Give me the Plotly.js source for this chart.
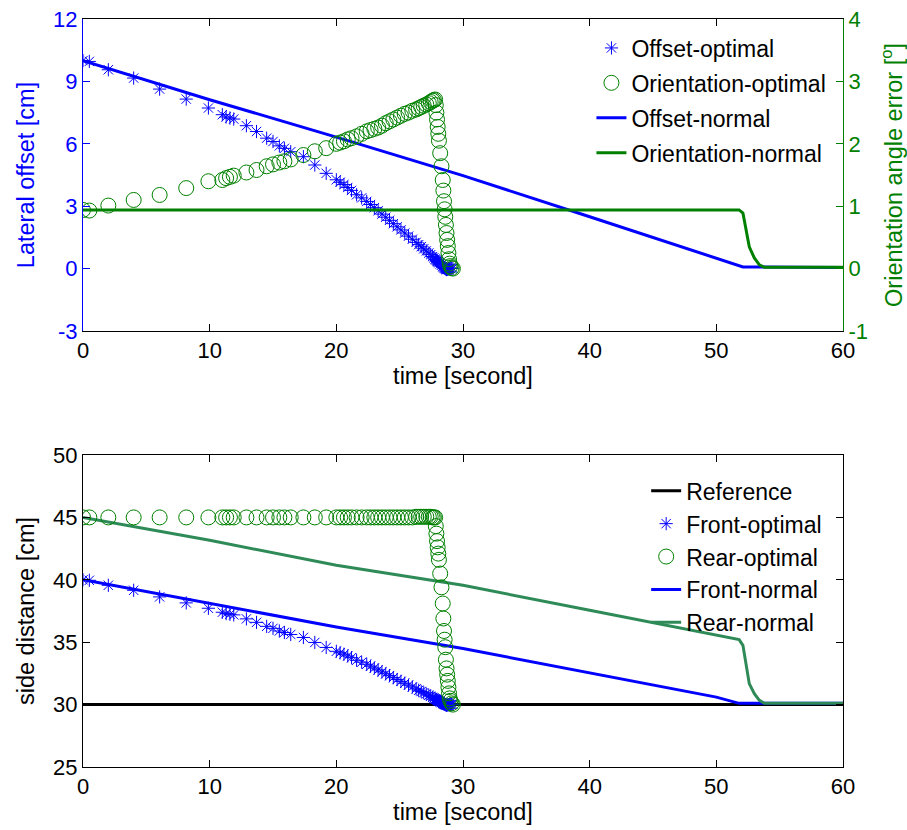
<!DOCTYPE html>
<html>
<head>
<meta charset="utf-8">
<script src="https://cdn.plot.ly/plotly-3.0.1.min.js"></script>
<style>html,body{margin:0;padding:0;background:#fff;}#chart{width:907px;height:830px;}</style>
</head>
<body>
<div id="chart"></div>
<script>
// ---- shared time samples of the "optimal" runs (seconds)
var tOpt = [0, 0.5, 2.0, 4.0, 6.05, 8.15, 9.9, 11.0, 11.3, 11.6, 11.9, 12.9, 13.7, 14.5, 15.0, 15.5, 15.9, 16.4, 17.4, 18.3, 19.2, 20.0, 20.3, 20.6, 20.9, 21.2, 21.6, 22.0, 22.4, 22.7, 23.0, 23.3, 23.6, 23.9, 24.2, 24.5, 24.8, 25.1, 25.4, 25.7, 26.0, 26.3, 26.5, 26.7, 26.9, 27.1, 27.3, 27.45, 27.6, 27.7, 27.8,
  27.85, 27.9, 27.95, 28.0, 28.05, 28.1, 28.2, 28.3, 28.4, 28.45, 28.5, 28.55, 28.6, 28.65, 28.7, 28.75, 28.8, 28.85, 28.9, 28.95, 29.0, 29.1, 29.2];

// ---- top panel
var offsetOptimal = [10.0, 9.96, 9.56, 9.16, 8.63, 8.15, 7.72, 7.40, 7.29, 7.24, 7.19, 6.87, 6.59, 6.27, 6.11, 5.90, 5.78, 5.62, 5.38, 4.98, 4.58, 4.27, 4.15, 4.04, 3.90, 3.76, 3.55, 3.40, 3.23, 3.08, 2.93, 2.78, 2.62, 2.47, 2.32, 2.16, 2.01, 1.86, 1.71, 1.56, 1.41, 1.26, 1.15, 1.05, 0.95, 0.85, 0.75, 0.67, 0.58, 0.52, 0.46,
  0.43, 0.40, 0.37, 0.34, 0.31, 0.28, 0.22, 0.16, 0.10, 0.07, 0.04, 0.02, 0.00, -0.03, -0.05, -0.04, -0.02, -0.01, 0.00, 0.01, 0.01, 0.02, 0.02];
var orientationOptimal = [0.94, 0.93, 1.01, 1.10, 1.18, 1.29, 1.40, 1.42, 1.45, 1.47, 1.49, 1.54, 1.58, 1.64, 1.67, 1.70, 1.72, 1.75, 1.82, 1.88, 1.93, 2.00, 2.02, 2.04, 2.07, 2.09, 2.12, 2.16, 2.20, 2.22, 2.24, 2.26, 2.29, 2.33, 2.36, 2.39, 2.42, 2.45, 2.48, 2.50, 2.53, 2.55, 2.57, 2.59, 2.61, 2.63, 2.65, 2.67, 2.69, 2.70, 2.71,
  2.62, 2.50, 2.39, 2.27, 2.16, 2.05, 1.85, 1.64, 1.42, 1.25, 1.08, 0.95, 0.83, 0.70, 0.57, 0.46, 0.36, 0.25, 0.15, 0.08, 0.04, 0.01, 0.00];

var tOffsetNormal = [0, 10, 20, 30, 40, 50, 52.1, 60];
var offsetNormal = [10.0, 8.12, 6.32, 4.47, 2.49, 0.50, 0.08, 0.05];

var tOrientNormal = [0, 51.8, 52.1, 52.4, 52.6, 53.0, 53.4, 53.8, 60];
var orientationNormal = [0.94, 0.94, 0.89, 0.57, 0.35, 0.17, 0.06, 0.02, 0.02];

// ---- bottom panel
var tReference = [0, 60];
var reference = [30, 30];
var frontOptimal = [40.0, 39.96, 39.56, 39.16, 38.63, 38.15, 37.72, 37.40, 37.29, 37.24, 37.19, 36.87, 36.59, 36.27, 36.11, 35.90, 35.78, 35.62, 35.38, 34.98, 34.58, 34.27, 34.15, 34.04, 33.90, 33.76, 33.55, 33.40, 33.23, 33.08, 32.93, 32.78, 32.62, 32.47, 32.32, 32.16, 32.01, 31.86, 31.71, 31.56, 31.41, 31.26, 31.15, 31.05, 30.95, 30.85, 30.75, 30.67, 30.58, 30.52, 30.46,
  30.43, 30.40, 30.37, 30.34, 30.31, 30.28, 30.22, 30.16, 30.10, 30.07, 30.04, 30.02, 30.00, 29.97, 29.95, 29.96, 29.98, 29.99, 30.00, 30.01, 30.01, 30.02, 30.02];
var rearOptimal = [45.0, 45.0, 45.0, 45.0, 45.0, 45.0, 45.0, 45.0, 45.0, 45.0, 45.0, 45.0, 45.0, 45.0, 45.0, 45.0, 45.0, 45.0, 45.0, 45.0, 45.0, 45.0, 45.0, 45.0, 45.0, 45.0, 45.0, 45.0, 45.0, 45.0, 45.0, 45.0, 45.0, 45.0, 45.0, 45.0, 45.0, 45.0, 45.0, 45.0, 45.0, 45.05, 45.05, 45.05, 45.05, 45.05, 45.05, 45.05, 45.0, 45.0, 45.0,
  44.3, 43.7, 43.1, 42.6, 42.1, 41.6, 40.5, 39.4, 38.1, 36.9, 35.9, 35.2, 34.6, 33.6, 32.9, 32.4, 31.9, 31.4, 30.9, 30.5, 30.3, 30.1, 30.0];

var tFrontNormal = [0, 10, 20, 30, 40, 50, 51.8, 60];
var frontNormal = [40.0, 38.09, 36.22, 34.49, 32.55, 30.6, 30.1, 30.1];

var tRearNormal = [0, 10, 20, 30, 40, 50, 51.8, 52.1, 52.4, 52.6, 53.0, 53.4, 53.8, 60];
var rearNormal = [45.0, 43.17, 41.16, 39.56, 37.56, 35.6, 35.21, 34.75, 33.01, 31.68, 30.88, 30.34, 30.1, 30.1];

// ---- tick labels
var xTicks = [0, 10, 20, 30, 40, 50, 60];
var yLeftTicks = [-3, 0, 3, 6, 9, 12];
var yLeftText = ['-3', '0', '3', '6', '9', '12'];
var yRightTicks = [-1, 0, 1, 2, 3, 4];
var yRightText = ['-1', '0', '1', '2', '3', '4'];
var yBottomTicks = [25, 30, 35, 40, 45, 50];

var BLUE = 'rgb(0,0,255)', GREEN = 'rgb(0,128,0)', SEA = 'rgb(46,139,87)';
var FONT = 'Arial, "Liberation Sans", sans-serif';
var FS = 22, FT = 23.5, FL = 23;

var traces = [
  {x: tOffsetNormal, y: offsetNormal, type: 'scatter', mode: 'lines', name: 'Offset-normal',
   line: {color: BLUE, width: 3}, xaxis: 'x', yaxis: 'y', legend: 'legend', legendgroup: 'a3', legendrank: 3},
  {x: tOrientNormal, y: orientationNormal, type: 'scatter', mode: 'lines', name: 'Orientation-normal',
   line: {color: GREEN, width: 3}, xaxis: 'x', yaxis: 'y2', legend: 'legend', legendgroup: 'a4', legendrank: 4},
  {x: tOpt, y: offsetOptimal, type: 'scatter', mode: 'markers', name: 'Offset-optimal',
   marker: {symbol: 'asterisk-open', size: 11, color: BLUE, line: {color: BLUE, width: 1}},
   xaxis: 'x', yaxis: 'y', legend: 'legend', legendgroup: 'a1', legendrank: 1},
  {x: tOpt, y: orientationOptimal, type: 'scatter', mode: 'markers', name: 'Orientation-optimal',
   marker: {symbol: 'circle-open', size: 15, color: GREEN, line: {color: GREEN, width: 1}},
   xaxis: 'x', yaxis: 'y2', legend: 'legend', legendgroup: 'a2', legendrank: 2},

  {x: tReference, y: reference, type: 'scatter', mode: 'lines', name: 'Reference',
   line: {color: 'black', width: 3}, xaxis: 'x2', yaxis: 'y3', legend: 'legend2', legendgroup: 'b1', legendrank: 1},
  {x: tFrontNormal, y: frontNormal, type: 'scatter', mode: 'lines', name: 'Front-normal',
   line: {color: BLUE, width: 3}, xaxis: 'x2', yaxis: 'y3', legend: 'legend2', legendgroup: 'b4', legendrank: 4},
  {x: tRearNormal, y: rearNormal, type: 'scatter', mode: 'lines', name: 'Rear-normal',
   line: {color: SEA, width: 3}, xaxis: 'x2', yaxis: 'y3', legend: 'legend2', legendgroup: 'b5', legendrank: 5},
  {x: tOpt, y: frontOptimal, type: 'scatter', mode: 'markers', name: 'Front-optimal',
   marker: {symbol: 'asterisk-open', size: 11, color: BLUE, line: {color: BLUE, width: 1}},
   xaxis: 'x2', yaxis: 'y3', legend: 'legend2', legendgroup: 'b2', legendrank: 2},
  {x: tOpt, y: rearOptimal, type: 'scatter', mode: 'markers', name: 'Rear-optimal',
   marker: {symbol: 'circle-open', size: 15, color: GREEN, line: {color: GREEN, width: 1}},
   xaxis: 'x2', yaxis: 'y3', legend: 'legend2', legendgroup: 'b3', legendrank: 3}
];

function xAxis(anchor) {
  return {
    domain: [0, 1], anchor: anchor, range: [0, 60], tickvals: xTicks,
    ticks: 'inside', ticklen: 7, tickcolor: 'black', tickwidth: 1,
    showline: true, linecolor: 'black', linewidth: 1, mirror: 'ticks',
    showgrid: false, zeroline: false,
    tickfont: {family: FONT, size: FS, color: 'black'},
    title: {text: 'time [second]', font: {family: FONT, size: FT, color: 'black'}, standoff: 5}
  };
}

var layout = {
  width: 907, height: 830,
  margin: {l: 83, r: 64, t: 19, b: 63},
  paper_bgcolor: 'white', plot_bgcolor: 'white',
  font: {family: FONT, size: FS},
  xaxis: xAxis('y'),
  xaxis2: xAxis('y3'),
  yaxis: {
    domain: [0.5829, 1], anchor: 'x', range: [-3, 12], tickvals: yLeftTicks, ticktext: yLeftText,
    ticks: 'inside', ticklen: 7, tickcolor: BLUE, showline: true, linecolor: BLUE, linewidth: 1,
    showgrid: false, zeroline: false,
    tickfont: {family: FONT, size: FS, color: BLUE},
    title: {text: 'Lateral offset [cm]', font: {family: FONT, size: FT, color: BLUE}, standoff: 11}
  },
  yaxis2: {
    overlaying: 'y', side: 'right', anchor: 'x', range: [-1, 4], tickvals: yRightTicks, ticktext: yRightText,
    ticks: 'inside', ticklen: 7, tickcolor: GREEN, showline: true, linecolor: GREEN, linewidth: 1,
    showgrid: false, zeroline: false,
    tickfont: {family: FONT, size: FS, color: GREEN},
    title: {text: 'Orientation angle error [<sup>o</sup>]', font: {family: FONT, size: FT, color: GREEN}, standoff: 19}
  },
  yaxis3: {
    domain: [0, 0.4171], anchor: 'x2', range: [25, 50], tickvals: yBottomTicks,
    ticks: 'inside', ticklen: 7, tickcolor: 'black', showline: true, linecolor: 'black', linewidth: 1,
    mirror: 'ticks', showgrid: false, zeroline: false,
    tickfont: {family: FONT, size: FS, color: 'black'},
    title: {text: 'side distance [cm]', font: {family: FONT, size: FT, color: 'black'}, standoff: 11}
  },
  legend: {
    x: 0.669, y: 0.99, xanchor: 'left', yanchor: 'top', bgcolor: 'rgba(0,0,0,0)', borderwidth: 0,
    font: {family: FONT, size: FL, color: 'black'}, traceorder: 'grouped', tracegroupgap: 2
  },
  legend2: {
    x: 0.741, y: 0.398, xanchor: 'left', yanchor: 'top', bgcolor: 'rgba(0,0,0,0)', borderwidth: 0,
    font: {family: FONT, size: FL, color: 'black'}, traceorder: 'grouped', tracegroupgap: 0
  },
  showlegend: true
};

Plotly.newPlot('chart', traces, layout, {displayModeBar: false, staticPlot: true});
</script>
</body>
</html>
